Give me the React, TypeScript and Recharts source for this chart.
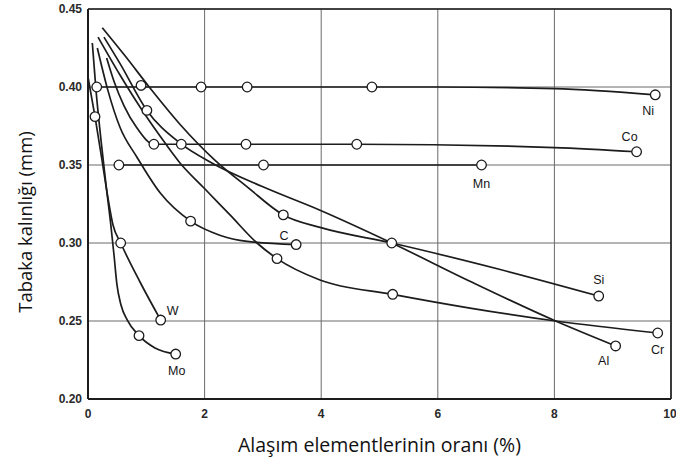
import React from 'react';
import {
  ComposedChart,
  Line,
  Scatter,
  XAxis,
  YAxis,
  CartesianGrid,
  ReferenceLine,
  Label,
} from 'recharts';

const xTicks = [0, 2, 4, 6, 8, 10];
const yTicks = [0.2, 0.25, 0.3, 0.35, 0.4, 0.45];
const xTitle = 'Alaşım elementlerinin oranı (%)';
const yTitle = 'Tabaka kalınlığı (mm)';

// Ni
const niCurve = [
  { x: 0.15, y: 0.4 }, { x: 0.91, y: 0.4 }, { x: 1.94, y: 0.4 }, { x: 2.73, y: 0.4 },
  { x: 4.87, y: 0.4 }, { x: 6.0, y: 0.4 }, { x: 8.0, y: 0.399 }, { x: 9.73, y: 0.395 },
];
const niMarkers = [
  { x: 0.15, y: 0.4 }, { x: 0.91, y: 0.401 }, { x: 1.94, y: 0.4 }, { x: 2.73, y: 0.4 },
  { x: 4.87, y: 0.4 }, { x: 9.73, y: 0.395 },
];
// Co
const coCurve = [
  { x: 0.32, y: 0.4186 }, { x: 0.45, y: 0.4032 }, { x: 0.62, y: 0.3878 }, { x: 0.84, y: 0.3737 },
  { x: 1.13, y: 0.3633 }, { x: 1.6, y: 0.3633 }, { x: 2.71, y: 0.3633 }, { x: 4.61, y: 0.3633 },
  { x: 8.0, y: 0.3612 }, { x: 9.41, y: 0.3585 },
];
const coMarkers = [
  { x: 1.13, y: 0.3633 }, { x: 1.6, y: 0.3633 }, { x: 2.71, y: 0.3633 }, { x: 4.61, y: 0.3633 },
  { x: 9.41, y: 0.3585 },
];
// Mn
const mnCurve = [{ x: 0.53, y: 0.35 }, { x: 3.01, y: 0.35 }, { x: 6.75, y: 0.35 }];
const mnMarkers = [{ x: 0.53, y: 0.35 }, { x: 3.01, y: 0.35 }, { x: 6.75, y: 0.35 }];
// C
const cCurve = [
  { x: 0.16, y: 0.425 }, { x: 0.34, y: 0.398 }, { x: 0.55, y: 0.374 }, { x: 0.84, y: 0.355 },
  { x: 1.24, y: 0.332 }, { x: 1.76, y: 0.314 }, { x: 2.26, y: 0.305 }, { x: 2.73, y: 0.301 },
  { x: 3.57, y: 0.299 },
];
const cMarkers = [{ x: 1.76, y: 0.314 }, { x: 3.57, y: 0.299 }];
// Si
const siCurve = [
  { x: 0.245, y: 0.438 }, { x: 0.635, y: 0.42 }, { x: 1.05, y: 0.4 }, { x: 1.58, y: 0.376 },
  { x: 2.18, y: 0.353 }, { x: 2.73, y: 0.336 }, { x: 3.35, y: 0.318 }, { x: 3.98, y: 0.31 },
  { x: 5.21, y: 0.3 }, { x: 7.07, y: 0.283 }, { x: 8.76, y: 0.266 },
];
const siMarkers = [{ x: 3.35, y: 0.318 }, { x: 5.21, y: 0.3 }, { x: 8.76, y: 0.266 }];
// Al
const alCurve = [
  { x: 0.274, y: 0.432 }, { x: 0.55, y: 0.415 }, { x: 1.01, y: 0.385 }, { x: 1.58, y: 0.364 },
  { x: 2.14, y: 0.351 }, { x: 3.0, y: 0.336 }, { x: 3.98, y: 0.321 }, { x: 5.21, y: 0.3 },
  { x: 6.55, y: 0.2755 }, { x: 8.02, y: 0.25 }, { x: 9.05, y: 0.234 },
];
const alMarkers = [{ x: 1.01, y: 0.385 }, { x: 9.05, y: 0.234 }];
// Cr
const crCurve = [
  { x: 0.172, y: 0.432 }, { x: 0.549, y: 0.4077 }, { x: 0.892, y: 0.3872 }, { x: 1.235, y: 0.3686 },
  { x: 1.578, y: 0.3513 }, { x: 2.007, y: 0.3346 }, { x: 2.436, y: 0.318 }, { x: 2.899, y: 0.3 },
  { x: 3.242, y: 0.29 }, { x: 3.979, y: 0.2763 }, { x: 5.226, y: 0.2671 }, { x: 6.552, y: 0.2583 },
  { x: 8.02, y: 0.25 }, { x: 9.772, y: 0.2423 },
];
const crMarkers = [{ x: 3.242, y: 0.29 }, { x: 5.226, y: 0.2671 }, { x: 9.772, y: 0.2423 }];
// W
const wCurve = [
  { x: 0.0, y: 0.4064 }, { x: 0.12, y: 0.381 }, { x: 0.24, y: 0.3532 }, { x: 0.343, y: 0.3288 },
  { x: 0.429, y: 0.3115 }, { x: 0.561, y: 0.3 }, { x: 0.892, y: 0.275 }, { x: 1.247, y: 0.2506 },
];
const wMarkers = [{ x: 0.12, y: 0.381 }, { x: 0.561, y: 0.3 }, { x: 1.247, y: 0.2506 }];
// Mo
const moCurve = [
  { x: 0.074, y: 0.4282 }, { x: 0.137, y: 0.3981 }, { x: 0.223, y: 0.366 }, { x: 0.309, y: 0.3372 },
  { x: 0.386, y: 0.3135 }, { x: 0.446, y: 0.2923 }, { x: 0.497, y: 0.2731 }, { x: 0.566, y: 0.2603 },
  { x: 0.674, y: 0.2506 }, { x: 0.875, y: 0.2406 }, { x: 1.149, y: 0.2327 }, { x: 1.504, y: 0.2288 },
];
const moMarkers = [{ x: 0.875, y: 0.2406 }, { x: 1.504, y: 0.2288 }];

const series = [
  { name: 'Ni', curve: niCurve, markers: niMarkers, dx: -7, dy: 16 },
  { name: 'Co', curve: coCurve, markers: coMarkers, dx: -7, dy: -15 },
  { name: 'Mn', curve: mnCurve, markers: mnMarkers, dx: 0, dy: 19 },
  { name: 'C', curve: cCurve, markers: cMarkers, dx: -12, dy: -9 },
  { name: 'Si', curve: siCurve, markers: siMarkers, dx: 0, dy: -16 },
  { name: 'Al', curve: alCurve, markers: alMarkers, dx: -12, dy: 15 },
  { name: 'Cr', curve: crCurve, markers: crMarkers, dx: 0, dy: 17 },
  { name: 'W', curve: wCurve, markers: wMarkers, dx: 12, dy: -9 },
  { name: 'Mo', curve: moCurve, markers: moMarkers, dx: 1, dy: 17 },
];

const INK = '#1c1c1c';
const LABEL_FONT = '"Liberation Sans", Arial, sans-serif';
const TITLE_FONT = '"Open Sans", "Noto Sans", sans-serif';

const markerShape = (p: any) => (
  <circle cx={p.cx} cy={p.cy} r={4.8} fill="#ffffff" stroke={INK} strokeWidth={1.3} />
);

const makeLabelShape = (name: string, dx: number, dy: number) => (p: any) => (
  <text
    x={p.cx + dx}
    y={p.cy + dy}
    textAnchor="middle"
    dominantBaseline="central"
    fontFamily={LABEL_FONT}
    fontSize={12.5}
    fill="#151515"
  >
    {name}
  </text>
);

const XTitle = (props: any) => {
  const vb = props.viewBox || { x: 88, y: 399, width: 583, height: 66 };
  return (
    <text
      x={vb.x + vb.width / 2}
      y={vb.y + 45}
      textAnchor="middle"
      dominantBaseline="central"
      fontFamily={TITLE_FONT}
      fontSize={19.5}
      fill="#111"
    >
      {xTitle}
    </text>
  );
};

const YTitle = (props: any) => {
  const vb = props.viewBox || { x: 0, y: 9, width: 88, height: 390 };
  const cx = vb.x + 24;
  const cy = vb.y + vb.height / 2 + 18;
  return (
    <text
      x={cx}
      y={cy}
      transform={`rotate(-90 ${cx} ${cy})`}
      textAnchor="middle"
      dominantBaseline="central"
      fontFamily={TITLE_FONT}
      fontSize={18.5}
      fill="#111"
    >
      {yTitle}
    </text>
  );
};

export default function App() {
  return (
    <div style={{ position: 'absolute', left: 0, top: 0, width: 676, height: 465, background: '#fff' }}>
      <ComposedChart width={676} height={465} margin={{ top: 9, right: 5, bottom: 0, left: 0 }}>
        <CartesianGrid stroke="#6a6a6a" strokeWidth={1} />
        <XAxis
          type="number"
          dataKey="x"
          domain={[0, 10]}
          ticks={xTicks}
          allowDataOverflow
          height={66}
          axisLine={{ stroke: INK, strokeWidth: 2 }}
          tickLine={false}
          tickSize={6}
          tickMargin={4}
          tick={{ fontFamily: LABEL_FONT, fontSize: 12, fontWeight: 'bold', fill: '#2a2a2a' }}
        >
          <Label content={<XTitle />} />
        </XAxis>
        <YAxis
          type="number"
          dataKey="y"
          domain={[0.2, 0.45]}
          ticks={yTicks}
          allowDataOverflow
          width={88}
          axisLine={{ stroke: INK, strokeWidth: 2 }}
          tickLine={false}
          tickSize={6}
          tickMargin={0}
          tickFormatter={(v: number) => v.toFixed(2)}
          tick={{ fontFamily: LABEL_FONT, fontSize: 12, fontWeight: 'bold', fill: '#2a2a2a' }}
        >
          <Label content={<YTitle />} />
        </YAxis>
        <ReferenceLine y={0.45} stroke={INK} strokeWidth={1.6} />
        <ReferenceLine x={10} stroke={INK} strokeWidth={1.6} />
        {series.map((s) => (
          <Line
            key={`line-${s.name}`}
            data={s.curve}
            dataKey="y"
            type="monotone"
            stroke={INK}
            strokeWidth={1.7}
            dot={false}
            activeDot={false}
            isAnimationActive={false}
          />
        ))}
        {series.map((s) => (
          <Scatter
            key={`mk-${s.name}`}
            data={s.markers}
            shape={markerShape}
            isAnimationActive={false}
          />
        ))}
        {series.map((s) => (
          <Scatter
            key={`lb-${s.name}`}
            data={[s.markers[s.markers.length - 1]]}
            shape={makeLabelShape(s.name, s.dx, s.dy)}
            isAnimationActive={false}
          />
        ))}
      </ComposedChart>
    </div>
  );
}
